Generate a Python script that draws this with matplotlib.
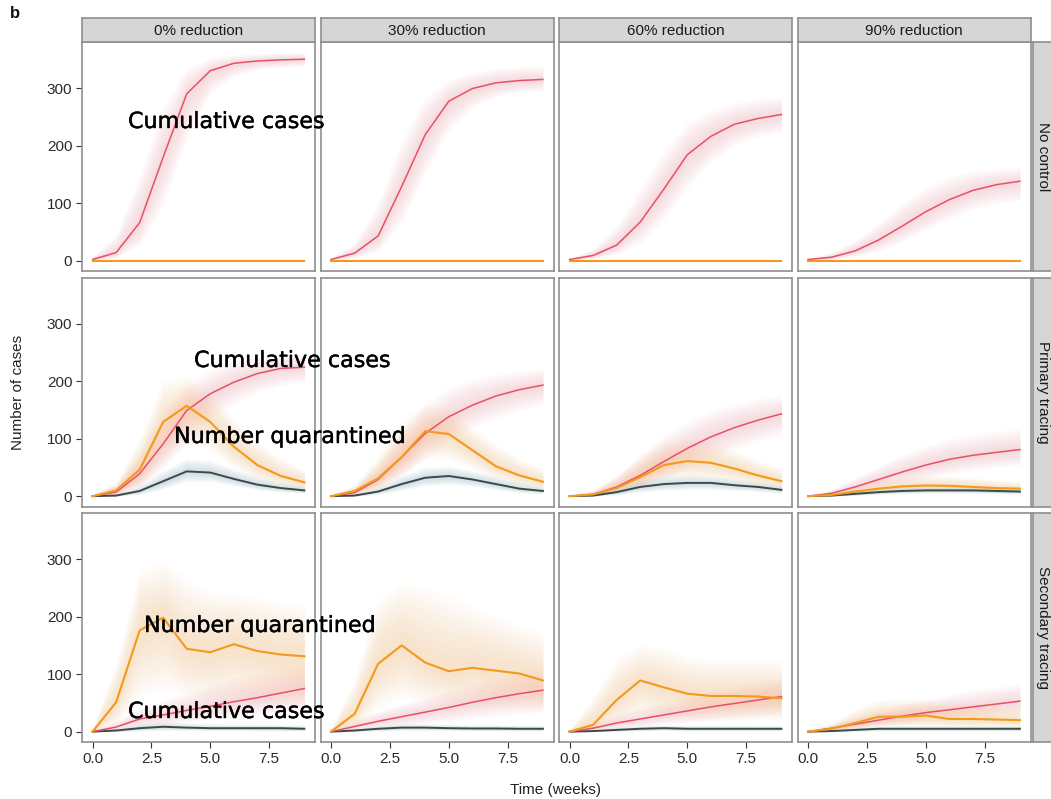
import matplotlib
matplotlib.use("Agg")
import matplotlib.pyplot as plt
import matplotlib.patheffects as pe
import numpy as np

# ---------------------------------------------------------------------------
# Data: weekly model output (median with uncertainty band) per scenario
# ---------------------------------------------------------------------------
weeks = [0, 1, 2, 3, 4, 5, 6, 7, 8, 9]
reductions = ["0% reduction", "30% reduction", "60% reduction", "90% reduction"]
strategies = ["No control", "Primary tracing", "Secondary tracing"]
x_ticks = [0.0, 2.5, 5.0, 7.5]
x_tick_labels = ["0.0", "2.5", "5.0", "7.5"]
y_ticks = [0, 100, 200, 300]
y_tick_labels = ["0", "100", "200", "300"]

# --- No control ------------------------------------------------------------
cum_none = [
    [2, 14, 66, 180, 290, 330, 343, 347, 349, 350],
    [2, 13, 43, 129, 219, 277, 299, 309, 313, 315],
    [2, 9, 27, 67, 124, 184, 216, 237, 247, 254],
    [2, 6, 17, 36, 60, 85, 106, 122, 132, 138],
]
cum_none_hi = [
    [6, 45, 150, 270, 335, 352, 358, 360, 361, 362],
    [5, 30, 100, 210, 285, 315, 328, 334, 337, 338],
    [4, 20, 60, 125, 190, 240, 262, 275, 282, 285],
    [4, 14, 35, 65, 100, 128, 146, 156, 160, 162],
]
cum_none_lo = [
    [0, 4, 25, 95, 210, 290, 320, 332, 336, 338],
    [0, 4, 15, 65, 150, 225, 265, 285, 292, 295],
    [0, 3, 10, 30, 70, 125, 170, 200, 215, 222],
    [0, 2, 7, 17, 32, 52, 72, 88, 98, 104],
]
quar_none = [[0] * 10, [0] * 10, [0] * 10, [0] * 10]
quar_none_hi = [[0, 1, 2, 2, 2, 2, 2, 2, 2, 2]] * 4
quar_none_lo = [[0] * 10, [0] * 10, [0] * 10, [0] * 10]
det_none = [[0] * 10, [0] * 10, [0] * 10, [0] * 10]
det_none_hi = [[0] * 10, [0] * 10, [0] * 10, [0] * 10]
det_none_lo = [[0] * 10, [0] * 10, [0] * 10, [0] * 10]

# --- Primary tracing -------------------------------------------------------
cum_prim = [
    [0, 7, 39, 91, 149, 178, 198, 213, 222, 224],
    [0, 6, 29, 68, 109, 138, 158, 174, 185, 193],
    [0, 3, 16, 36, 60, 83, 103, 119, 132, 143],
    [0, 5, 16, 29, 42, 54, 64, 71, 76, 81],
]
cum_prim_hi = [
    [3, 20, 75, 150, 195, 220, 235, 240, 245, 248],
    [2, 15, 55, 115, 160, 190, 205, 212, 218, 222],
    [1, 10, 35, 70, 105, 130, 150, 162, 170, 176],
    [1, 12, 32, 52, 72, 88, 100, 108, 113, 118],
]
cum_prim_lo = [
    [0, 2, 15, 45, 95, 135, 160, 180, 192, 198],
    [0, 2, 12, 35, 65, 95, 118, 135, 148, 158],
    [0, 1, 6, 16, 30, 48, 65, 80, 95, 105],
    [0, 1, 6, 13, 22, 30, 38, 44, 49, 53],
]
quar_prim = [
    [0, 10, 46, 129, 157, 129, 86, 54, 35, 24],
    [0, 9, 31, 68, 113, 108, 80, 52, 36, 25],
    [0, 3, 14, 33, 54, 61, 58, 48, 36, 26],
    [0, 2, 8, 13, 17, 18.5, 18, 16, 14, 13],
]
quar_prim_hi = [
    [3, 25, 100, 200, 210, 180, 135, 95, 65, 45],
    [2, 20, 70, 130, 160, 150, 120, 90, 65, 48],
    [1, 10, 35, 70, 95, 100, 95, 80, 62, 48],
    [1, 6, 18, 28, 34, 36, 35, 32, 28, 26],
]
quar_prim_lo = [
    [0, 3, 15, 60, 90, 80, 50, 28, 18, 10],
    [0, 3, 12, 35, 65, 65, 48, 30, 18, 12],
    [0, 1, 5, 15, 28, 32, 30, 25, 18, 12],
    [0, 0, 3, 5, 8, 9, 8, 7, 6, 5],
]
det_prim = [
    [0, 1, 9, 26, 43, 41, 30, 20, 14, 10],
    [0, 1, 8, 21, 32, 35, 29, 21, 13, 9],
    [0, 1, 7, 16, 21, 23, 23, 19, 16, 11],
    [0, 1, 4, 7, 9, 10, 10, 10, 9, 8],
]
det_prim_hi = [
    [1, 4, 18, 45, 65, 62, 48, 34, 25, 18],
    [1, 4, 16, 36, 50, 52, 45, 35, 25, 18],
    [0, 3, 14, 28, 35, 38, 36, 31, 26, 20],
    [0, 3, 9, 14, 17, 18, 18, 17, 16, 15],
]
det_prim_lo = [
    [0, 0, 3, 12, 25, 25, 18, 11, 7, 5],
    [0, 0, 3, 10, 18, 20, 17, 11, 6, 4],
    [0, 0, 2, 7, 10, 12, 12, 10, 8, 5],
    [0, 0, 1, 3, 4, 5, 5, 5, 4, 4],
]

# --- Secondary tracing -----------------------------------------------------
cum_sec = [
    [0, 8, 22, 29, 37, 44, 52, 59, 67, 75],
    [0, 9, 18, 26, 34, 42, 51, 59, 66, 72],
    [0, 6, 15, 22, 29, 36, 43, 49, 55, 61],
    [0, 6, 13, 20, 27, 33, 38, 43, 48, 53],
]
cum_sec_hi = [
    [2, 18, 40, 55, 68, 80, 92, 102, 112, 120],
    [2, 20, 36, 48, 60, 72, 84, 95, 105, 112],
    [1, 14, 30, 42, 52, 62, 72, 80, 88, 95],
    [1, 12, 25, 38, 48, 56, 64, 72, 78, 84],
]
cum_sec_lo = [
    [0, 2, 8, 12, 16, 20, 24, 28, 32, 36],
    [0, 3, 7, 10, 14, 18, 22, 26, 30, 34],
    [0, 2, 5, 8, 12, 15, 19, 22, 26, 30],
    [0, 2, 5, 9, 13, 17, 21, 24, 28, 31],
]
quar_sec = [
    [0, 51, 176, 198, 144, 138, 152, 140, 134, 131],
    [0, 31, 118, 150, 120, 105, 111, 106, 101, 89],
    [0, 12, 55, 89, 77, 66, 62, 62, 61, 58],
    [0, 5, 15, 26, 26, 28, 22, 22, 21, 20],
]
quar_sec_hi = [
    [5, 120, 280, 295, 265, 245, 240, 232, 225, 220],
    [5, 90, 230, 260, 250, 235, 215, 200, 185, 170],
    [3, 60, 125, 150, 145, 130, 125, 125, 125, 125],
    [2, 15, 40, 55, 58, 56, 52, 50, 48, 46],
]
quar_sec_lo = [
    [0, 10, 60, 75, 60, 55, 55, 50, 48, 45],
    [0, 5, 40, 60, 50, 45, 45, 42, 40, 35],
    [0, 2, 15, 30, 25, 22, 20, 20, 20, 20],
    [0, 1, 5, 8, 8, 8, 7, 6, 6, 5],
]
det_sec = [
    [0, 2, 6, 8.5, 7, 6, 6, 6, 6, 5],
    [0, 2, 5, 7, 7, 6, 5.5, 5.5, 5, 5],
    [0, 1, 3, 5, 6, 5, 5, 5, 5, 5],
    [0, 1, 3, 5, 5, 5, 5, 5, 5, 5],
]
det_sec_hi = [
    [1, 5, 14, 18, 16, 14, 13, 13, 12, 12],
    [1, 5, 11, 14, 14, 13, 12, 12, 11, 11],
    [0, 3, 8, 11, 12, 11, 11, 11, 10, 10],
    [0, 3, 8, 10, 10, 10, 10, 10, 10, 10],
]
det_sec_lo = [
    [0, 0, 1, 2, 2, 2, 2, 1, 1, 1],
    [0, 0, 1, 2, 2, 2, 1, 1, 1, 1],
    [0, 0, 1, 1, 2, 1, 1, 1, 1, 1],
    [0, 0, 1, 1, 1, 1, 1, 1, 1, 1],
]

rows = [
    dict(cum=(cum_none, cum_none_lo, cum_none_hi),
         quar=(quar_none, quar_none_lo, quar_none_hi),
         det=(det_none, det_none_lo, det_none_hi)),
    dict(cum=(cum_prim, cum_prim_lo, cum_prim_hi),
         quar=(quar_prim, quar_prim_lo, quar_prim_hi),
         det=(det_prim, det_prim_lo, det_prim_hi)),
    dict(cum=(cum_sec, cum_sec_lo, cum_sec_hi),
         quar=(quar_sec, quar_sec_lo, quar_sec_hi),
         det=(det_sec, det_sec_lo, det_sec_hi)),
]

# ---------------------------------------------------------------------------
# Styling
# ---------------------------------------------------------------------------
plt.rcParams["font.family"] = ["Liberation Sans", "DejaVu Sans"]

W, H = 1051, 799
fig = plt.figure(figsize=(W / 100, H / 100), dpi=100)
fig.patch.set_facecolor("white")

col_left = [82, 320.5, 559, 797.5]
panel_w = 233
row_top = [42, 277.5, 513]
panel_h = 229

frame_col = "#8f8f8f"
strip_fill = "#d6d6d6"
tick_col = "#333333"

line_cols = {"cum": "#e8506a", "quar": "#f39a1c", "det": "#3c4a47"}
band_cols = {"cum": ("#f3a0ab", 0.04), "quar": ("#f8c48a", 0.05),
             "det": ("#9fbfc8", 0.055)}
line_w = {"cum": 1.1, "quar": 1.5, "det": 1.4}
# many nested layers give the uncertainty band a soft, feathered edge
band_layers = np.linspace(0.15, 1.0, 10)


def fig_box(left, top, w, h):
    return [left / W, 1 - (top + h) / H, w / W, h / H]


for r, series in enumerate(rows):
    for c in range(4):
        ax = fig.add_axes(fig_box(col_left[c], row_top[r], panel_w, panel_h))
        for key in ("cum", "quar", "det"):
            mid, lo, hi = series[key]
            m = np.asarray(mid[c], float)
            l = np.asarray(lo[c], float)
            h = np.asarray(hi[c], float)
            col, a = band_cols[key]
            for f in band_layers:
                ax.fill_between(weeks, m + f * (l - m), m + f * (h - m),
                                color=col, alpha=a, linewidth=0, zorder=1)
        for key in ("det", "cum", "quar"):
            mid, lo, hi = series[key]
            ax.plot(weeks, mid[c], color=line_cols[key], lw=line_w[key],
                    zorder=3, solid_joinstyle="round")
        ax.set_xlim(-0.45, 9.45)
        ax.set_ylim(-18, 380)
        for sp in ax.spines.values():
            sp.set_color(frame_col)
            sp.set_linewidth(1.2)
        ax.set_xticks(x_ticks)
        ax.set_yticks(y_ticks)
        ax.tick_params(axis="both", direction="out", length=4, width=0.8,
                       color=tick_col, labelcolor="#2b2b2b", labelsize=11,
                       pad=3)
        if r == 2:
            ax.set_xticklabels(x_tick_labels)
        else:
            ax.tick_params(axis="x", length=0, labelbottom=False)
        if c == 0:
            ax.set_yticklabels(y_tick_labels)
        else:
            ax.tick_params(axis="y", length=0, labelleft=False)

        # column strips on top
        if r == 0:
            sax = fig.add_axes(fig_box(col_left[c], 18, panel_w, 24))
            sax.set_xticks([])
            sax.set_yticks([])
            sax.set_facecolor(strip_fill)
            for sp in sax.spines.values():
                sp.set_color(frame_col)
                sp.set_linewidth(1.2)
            sax.text(0.5, 0.47, reductions[c], ha="center", va="center",
                     fontsize=11, color="#1a1a1a", transform=sax.transAxes)

    # row strips on the right
    rax = fig.add_axes(fig_box(1032.5, row_top[r], 24, panel_h))
    rax.set_xticks([])
    rax.set_yticks([])
    rax.set_facecolor(strip_fill)
    for sp in rax.spines.values():
        sp.set_color(frame_col)
        sp.set_linewidth(1.2)
    rax.text(0.45, 0.5, strategies[r], ha="center", va="center", rotation=270,
             fontsize=11, color="#1a1a1a", transform=rax.transAxes)

# axis titles and panel letter
fig.text(555 / W, 1 - 790 / H, "Time (weeks)", ha="center", va="center",
         fontsize=11, color="#222222")
fig.text(18 / W, 1 - 392 / H, "Number of cases", ha="center", va="center",
         rotation=90, fontsize=11, color="#222222")
fig.text(10 / W, 1 - 14 / H, "b", ha="left", va="center", fontsize=12,
         fontweight="bold", color="#111111")

# overlaid curve labels
labels = [
    ("Cumulative cases", 128, 122),
    ("Cumulative cases", 194, 361),
    ("Number quarantined", 174, 437),
    ("Number quarantined", 144, 626),
    ("Cumulative cases", 128, 712),
]
for txt, px, py in labels:
    fig.text(px / W, 1 - py / H, txt, ha="left", va="center", fontsize=16,
             family="DejaVu Sans", color="black", zorder=10,
             path_effects=[pe.withStroke(linewidth=0.3, foreground="black")])

fig.savefig("out.png", dpi=100, facecolor="white")
